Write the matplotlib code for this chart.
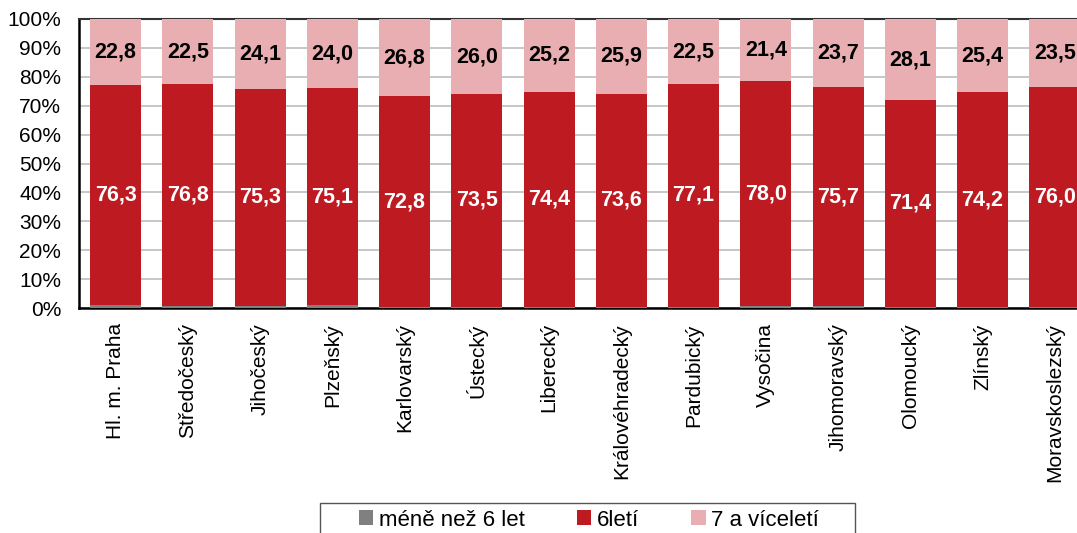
import matplotlib
matplotlib.use("Agg")
import matplotlib.pyplot as plt
from matplotlib.patches import Rectangle
import numpy as np

plt.rcParams['font.family'] = ['Liberation Sans', 'DejaVu Sans']

regions = ["Hl. m. Praha", "Středočeský", "Jihočeský", "Plzeňský", "Karlovarský",
           "Ústecký", "Liberecký", "Královéhradecký", "Pardubický", "Vysočina",
           "Jihomoravský", "Olomoucký", "Zlínský", "Moravskoslezský"]
six_year = [76.3, 76.8, 75.3, 75.1, 72.8, 73.5, 74.4, 73.6, 77.1, 78.0, 75.7, 71.4, 74.2, 76.0]
seven_plus = [22.8, 22.5, 24.1, 24.0, 26.8, 26.0, 25.2, 25.9, 22.5, 21.4, 23.7, 28.1, 25.4, 23.5]
under_six = [0.9, 0.7, 0.6, 0.9, 0.4, 0.5, 0.4, 0.5, 0.4, 0.6, 0.6, 0.5, 0.4, 0.5]
series_names = ["méně než 6 let", "6letí", "7 a víceletí"]

c_gray = "#808080"
c_red = "#BE1A22"
c_pink = "#E8AEB1"

W, H = 1077, 533
fig = plt.figure(figsize=(W / 100, H / 100), dpi=100)
left_px, top_px, bottom_px = 79.4, 19, 308
right_px = left_px + 14 * 72.25
ax = fig.add_axes([left_px / W, 1 - bottom_px / H, (right_px - left_px) / W, (bottom_px - top_px) / H])

x = np.arange(len(regions))
bw = 0.706
u = np.array(under_six)
s = np.array(six_year)
p = np.array(seven_plus)
b1 = ax.bar(x, u, bw, color=c_gray, label=series_names[0], zorder=3)
b2 = ax.bar(x, s, bw, bottom=u, color=c_red, label=series_names[1], zorder=3)
b3 = ax.bar(x, p, bw, bottom=u + s, color=c_pink, label=series_names[2], zorder=3)

for i in range(len(regions)):
    ax.text(x[i], u[i] + s[i] / 2, f"{s[i]:.1f}".replace('.', ','), ha='center', va='center',
            color='white', fontsize=15.5, fontweight='bold', zorder=4)
    ax.text(x[i], u[i] + s[i] + p[i] / 2, f"{p[i]:.1f}".replace('.', ','), ha='center', va='center',
            color='black', fontsize=15.5, fontweight='bold', zorder=4)

ax.set_xlim(-0.5, len(regions) - 0.5)
ax.set_ylim(0, 100)
ax.set_yticks(np.arange(0, 101, 10))
ax.set_yticklabels([f"{v}%" for v in range(0, 101, 10)], fontsize=15)
ax.set_xticks(x)
ax.set_xticklabels(regions, rotation=90, fontsize=15)
ax.tick_params(axis='x', length=0, pad=11)
ax.tick_params(axis='y', length=0, pad=13)
ax.yaxis.grid(True, color='#BDBDBD', linewidth=1.2, zorder=0)
ax.set_axisbelow(True)
for sp in ['left', 'bottom']:
    ax.spines[sp].set_color('black')
    ax.spines[sp].set_linewidth(1.8)
ax.spines['top'].set_color('#333333')
ax.spines['top'].set_linewidth(1.5)
ax.spines['right'].set_visible(False)

# legend frame (Excel-style wide box, clipped at bottom of image)
fig.patches.append(Rectangle((320 / W, -0.05), (855 - 320) / W, 0.05 + 1 - 503 / H,
                             transform=fig.transFigure, facecolor='white',
                             edgecolor='#555555', linewidth=1.0, zorder=1))

leg = fig.legend(handles=[b1, b2, b3], labels=series_names, loc='center',
                 bbox_to_anchor=(589 / W, 1 - 520 / H), ncol=3, fontsize=16,
                 frameon=False, handlelength=0.65, handleheight=0.65, handletextpad=0.25,
                 columnspacing=2.35, borderpad=0.0, borderaxespad=0)

fig.savefig("out.png", dpi=100)
